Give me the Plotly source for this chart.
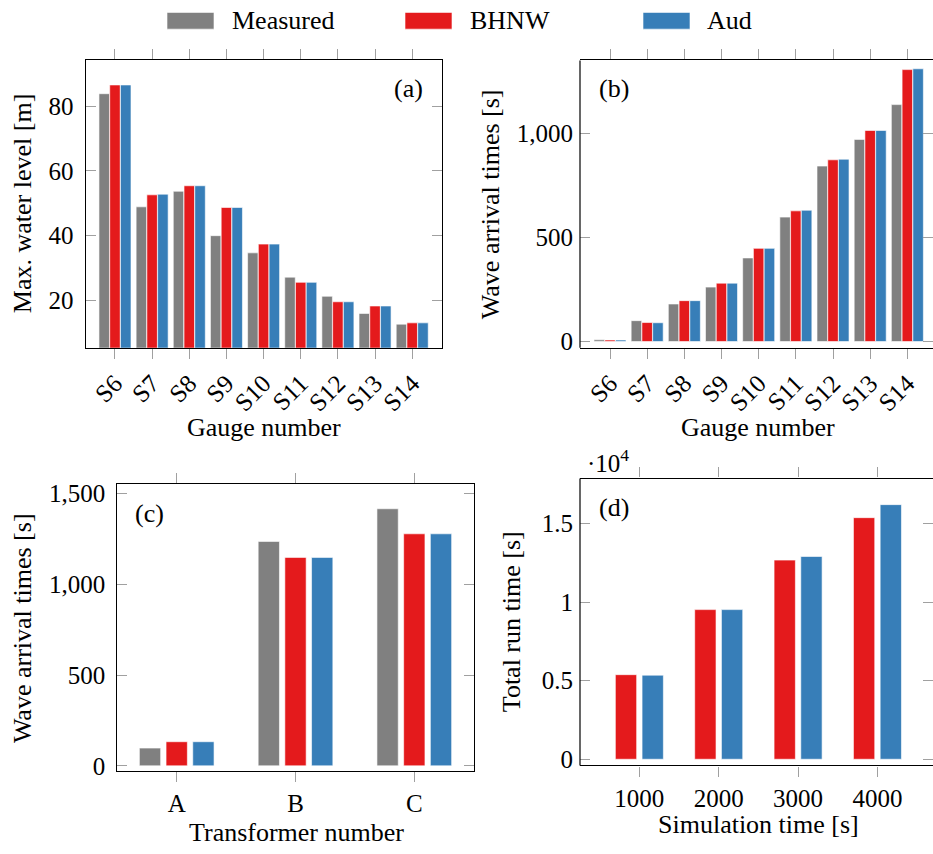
import plotly.graph_objects as go

# ---------------- data ----------------
gauges = ["S6", "S7", "S8", "S9", "S10", "S11", "S12", "S13", "S14"]
a_measured = [83.8, 48.9, 53.7, 40.0, 34.7, 27.2, 21.3, 16.0, 12.7]
a_bhnw = [86.5, 52.6, 55.4, 48.7, 37.4, 25.6, 19.6, 18.3, 13.1]
a_aud = [86.5, 52.8, 55.4, 48.7, 37.4, 25.6, 19.6, 18.3, 13.1]

b_measured = [8, 100, 180, 261, 401, 597, 842, 970, 1137]
b_bhnw = [7, 91, 196, 280, 447, 627, 872, 1013, 1305]
b_aud = [7, 90, 196, 280, 447, 630, 875, 1013, 1309]

transformers = ["A", "B", "C"]
c_measured = [98, 1237, 1417]
c_bhnw = [133, 1149, 1279]
c_aud = [133, 1149, 1279]

sim_times = ["1000", "2000", "3000", "4000"]
d_bhnw = [5380, 9520, 12670, 15370]
d_aud = [5350, 9520, 12900, 16200]

series_names = ["Measured", "BHNW", "Aud"]
colors = {"Measured": "#808080", "BHNW": "#e41a1c", "Aud": "#377eb8"}

# ---------------- layout helpers ----------------
W, H = 933, 854
FONT = "Liberation Serif"
FS = 25      # tick labels
FT = 26      # titles / legend / panel labels


def fx(px):
    return px / W


def fy(py):
    return 1 - py / H


fig = go.Figure()
bar_line = dict(color="rgba(255,255,255,0.6)", width=1)


def add_group(xcats, ys, names, ax, slot, width):
    n = len(ys)
    for i, (vals, name) in enumerate(zip(ys, names)):
        center = (i - (n - 1) / 2) * slot
        fig.add_trace(go.Bar(
            x=xcats, y=vals, name=name, showlegend=False,
            xaxis="x" + ax, yaxis="y" + ax,
            width=width, offset=center - width / 2,
            marker=dict(color=colors[name], line=bar_line),
        ))


add_group(gauges, [a_measured, a_bhnw, a_aud], series_names, "", 0.2894, 0.283)
add_group(gauges, [b_measured, b_bhnw, b_aud], series_names, "2", 0.2894, 0.283)
add_group(transformers, [c_measured, c_bhnw, c_aud], series_names, "3", 0.2247, 0.1793)
add_group(sim_times, [d_bhnw, d_aud], ["BHNW", "Aud"], "4", 0.3366, 0.2685)

tickfont = dict(family=FONT, size=FS, color="black")
TICKC = "#a0a0a0"


def xax(domain, rng, anchor, angle=0):
    return dict(domain=domain, range=rng, anchor=anchor, type="category",
                showline=True, linecolor="black", linewidth=1.2, mirror="ticks",
                ticks="outside", ticklen=10, tickcolor=TICKC, tickwidth=1.2,
                showgrid=False, zeroline=False, tickfont=tickfont, tickangle=angle)


def yax(domain, rng, anchor, tickvals, ticktext=None, showline=True):
    d = dict(domain=domain, range=rng, anchor=anchor,
             showline=showline, linecolor="black", linewidth=1.2, mirror="ticks",
             ticks="inside", ticklen=10, tickcolor=TICKC, tickwidth=1.2,
             showgrid=False, zeroline=False, tickfont=tickfont,
             tickvals=tickvals, tickformat=",", ticklabelstandoff=6)
    if ticktext is not None:
        d["ticktext"] = ticktext
    return d


dom_a_x = [fx(85.7), fx(442.3)]
dom_a_y = [fy(348.7), fy(57.3)]
dom_b_x = [fx(580), 1.0]
dom_b_y = [fy(348.7), fy(57.3)]
dom_c_x = [fx(117.3), fx(474.3)]
dom_c_y = [fy(778.3), fy(487.3)]
dom_d_x = [fx(580), 1.0]
dom_d_y = [fy(772.3), fy(481.3)]

fig.update_layout(
    width=W, height=H, margin=dict(l=0, r=0, t=0, b=0),
    paper_bgcolor="white", plot_bgcolor="white",
    font=dict(family=FONT, size=FS, color="black"),
    separators=".,",
    showlegend=False,
    xaxis=xax(dom_a_x, [-0.788, 8.81], "y", -45),
    yaxis=yax(dom_a_y, [5.4, 94.05], "x", [20, 40, 60, 80]),
    xaxis2=xax(dom_b_x, [-0.807, 8.69], "y2", -45),
    yaxis2=yax(dom_b_y, [-30.3, 1348.8], "x2", [0, 500, 1000], showline=False),
    xaxis3=xax(dom_c_x, [-0.5, 2.505], "y3"),
    yaxis3=yax(dom_c_y, [-30.4, 1551], "x3", [0, 500, 1000, 1500]),
    xaxis4=xax(dom_d_x, [-0.748, 3.70], "y4"),
    yaxis4=yax(dom_d_y, [-395, 17860], "x4", [0, 5000, 10000, 15000],
               ["0", "0.5", "1", "1.5"], showline=False),
)

# left frame lines for panels whose right edge runs off the page
for ax in ["2", "4"]:
    fig.add_shape(type="line", xref="x%s domain" % ax, yref="y%s domain" % ax,
                  x0=0, x1=0, y0=0, y1=1, line=dict(color="black", width=1.2))

ann = []


def text(x, y, s, size=FT, angle=0, xanchor="center"):
    ann.append(dict(x=fx(x), y=fy(y), xref="paper", yref="paper", text=s,
                    showarrow=False, textangle=angle, xanchor=xanchor, yanchor="middle",
                    font=dict(family=FONT, size=size, color="black")))


# panel labels
text(408, 86, "(a)")
text(614, 86, "(b)")
text(149, 517, "(c)")
text(614, 511, "(d)")
text(608, 464, "·10<sup>4</sup>", FS)

# axis titles
text(22, 203, "Max. water level [m]", FT, -90)
text(490, 203, "Wave arrival times [s]", FT, -90)
text(22, 633, "Wave arrival times [s]", FT, -90)
text(511, 627, "Total run time [s]", FT, -90)
text(264, 430, "Gauge number")
text(758, 430, "Gauge number")
text(296, 840, "Transformer number")
text(758, 832, "Simulation time [s]")

# legend
leg = [(167, 230, "Measured"), (405, 468, "BHNW"), (643, 705, "Aud")]
for sx, tx, name in leg:
    fig.add_shape(type="rect", xref="paper", yref="paper",
                  x0=fx(sx), x1=fx(sx + 47), y0=fy(25.5), y1=fy(8.5),
                  fillcolor=colors[name], line=dict(color="rgba(255,255,255,0.6)", width=1))
    text(tx, 17, name, FT, 0, "left")

fig.update_layout(annotations=ann)
fig.write_html("out.html", config={"displayModeBar": False},
               post_script="document.body.style.margin='0px';document.body.style.overflow='hidden';")
